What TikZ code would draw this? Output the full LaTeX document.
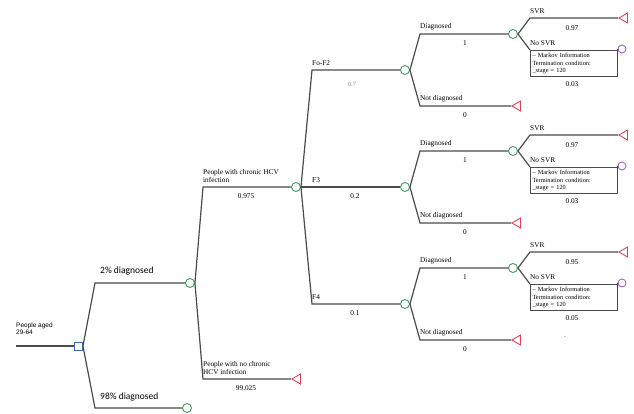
\documentclass[tikz,border=0pt]{standalone}
\usepackage{fontspec}
\setmainfont{Liberation Serif}
\newfontfamily\carl{Carlito}
\newfontfamily\lsans{Liberation Sans}
\usetikzlibrary{shapes.geometric}
\definecolor{linec}{HTML}{4A4A4A}
\definecolor{chgreen}{HTML}{3E9B62}
\definecolor{termred}{HTML}{E0404E}
\definecolor{decblue}{HTML}{3F68C0}
\definecolor{markpurple}{HTML}{A45FD0}
\definecolor{faintc}{HTML}{8E8496}
\tikzset{
  br/.style={draw=linec, line width=1.2pt},
  chance/.style={circle, draw=chgreen, line width=0.9pt, minimum size=9pt, inner sep=0pt},
  term/.style={regular polygon, regular polygon sides=3, shape border rotate=90, draw=termred, line width=0.9pt, minimum size=11.5pt, inner sep=0pt, anchor=corner 1},
  decbox/.style={rectangle, draw=decblue, line width=0.9pt, minimum size=8pt, inner sep=0pt},
  markc/.style={circle, draw=markpurple, line width=0.9pt, minimum size=8pt, inner sep=0pt},
  lab/.style={font=\fontsize{7.3}{8.6}\selectfont, inner sep=0pt, anchor=south west, align=left},
  prob/.style={font=\fontsize{7.3}{8.6}\selectfont, inner sep=0pt, anchor=center},
  biglab/.style={font=\carl\fontsize{9.5}{11}\selectfont, inner sep=0pt, anchor=south west},
  mbox/.style={draw=linec, line width=1pt, inner sep=1.5pt, minimum width=87pt, minimum height=26pt, anchor=north west, align=left, text width=83pt, font=\fontsize{6.3}{7.6}\selectfont},
}
\begin{document}
\begin{tikzpicture}[x=1pt,y=-1pt]
\useasboundingbox (0,0) rectangle (634,414);
% root
\coordinate (r0) at (16,346);
\node[decbox] (root) at (78.5,346) {};
\node[lab, font=\lsans\fontsize{6.5}{7.5}\selectfont] (rootlab) at (16,335) {People aged\\29-64};
\draw[br] (r0) -- (root.west);
% first level
\node[chance] (A) at (190,283) {};
\node[chance] (B) at (187,408) {};
\coordinate (kA) at (95,283);
\coordinate (kB) at (95,408);
\draw[br] (root.east) -- (kA) -- (A.west);
\draw[br] (root.east) -- (kB) -- (B.west);
\node[biglab] (labA) at (100,275) {2\% diagnosed};
\node[biglab] (labB) at (100,401) {98\% diagnosed};
% second level
\node[chance] (C) at (296,187) {};
\node[term] (T1) at (291,379) {};
\coordinate (kC) at (203,187);
\coordinate (kT1) at (203,379);
\draw[br] (A.east) -- (kC) -- (C.west);
\draw[br] (A.east) -- (kT1) -- (T1.corner 1);
\node[lab] (labC) at (203,183) {People with chronic HCV\\infection};
\node[prob] (pC) at (246,196) {0.975};
\node[lab] (labT1) at (203,375) {People with no chronic\\HCV infection};
\node[prob] (pT1) at (246,388) {99.025};
% third level
\node[chance] (D1) at (405,70) {};
\node[chance] (D2) at (405,187) {};
\node[chance] (D3) at (405,304) {};
\coordinate (kD1) at (312,70);
\coordinate (kD3) at (312,304);
\draw[br] (C.east) -- (kD1) -- (D1.west);
\draw[br] (C.east) -- (D2.west);
\draw[br] (C.east) -- (kD3) -- (D3.west);
\node[lab] (labD1) at (312,66) {Fo-F2};
\node[prob, text=faintc, font=\fontsize{6.5}{7.5}\selectfont] (pD1) at (352,84) {0.7};
\node[lab] (labD2) at (312,183) {F3};
\node[prob] (pD2) at (355,196) {0.2};
\node[lab] (labD3) at (312,300) {F4};
\node[prob] (pD3) at (355,313) {0.1};
% fourth and fifth levels
\foreach \i/\y/\pr/\qr in {1/70/0.97/0.03, 2/187/0.97/0.03, 3/304/0.95/0.05} {
  \node[chance] (E\i) at (513,\y-36) {};
  \node[term] (N\i) at (511,\y+36) {};
  \coordinate (kE\i) at (420,\y-36);
  \coordinate (kN\i) at (420,\y+36);
  \draw[br] (D\i.east) -- (kE\i) -- (E\i.west);
  \draw[br] (D\i.east) -- (kN\i) -- (N\i.corner 1);
  \node[lab] (labE\i) at (420,\y-40) {Diagnosed};
  \node[prob] (pE\i) at (465,\y-27) {1};
  \node[lab] (labN\i) at (420,\y+32) {Not diagnosed};
  \node[prob] (pN\i) at (465,\y+45) {0};
  % SVR
  \node[term] (S\i) at (618,\y-52) {};
  \coordinate (kS\i) at (530,\y-52);
  \draw[br] (E\i.east) -- (kS\i) -- (S\i.corner 1);
  \node[lab] (labS\i) at (530,\y-56) {SVR};
  \node[prob] (pS\i) at (572,\y-42) {\pr};
  % No SVR with Markov box
  \node[mbox] (M\i) at (530,\y-20) {-- Markov Information\\Termination condition:\\\_stage = 120};
  \node[markc] (K\i) at (622,\y-21) {};
  \draw[br] (E\i.east) -- (M\i.north west);
  \draw[br] (M\i.north east) -- (K\i.west);
  \node[lab] (labM\i) at (530,\y-24) {No SVR};
  \node[prob] (pM\i) at (572,\y+14) {\qr};
}
\node[prob, text=termred, font=\fontsize{6}{7}\selectfont] (dash) at (565,338) {-};
\end{tikzpicture}
\end{document}
